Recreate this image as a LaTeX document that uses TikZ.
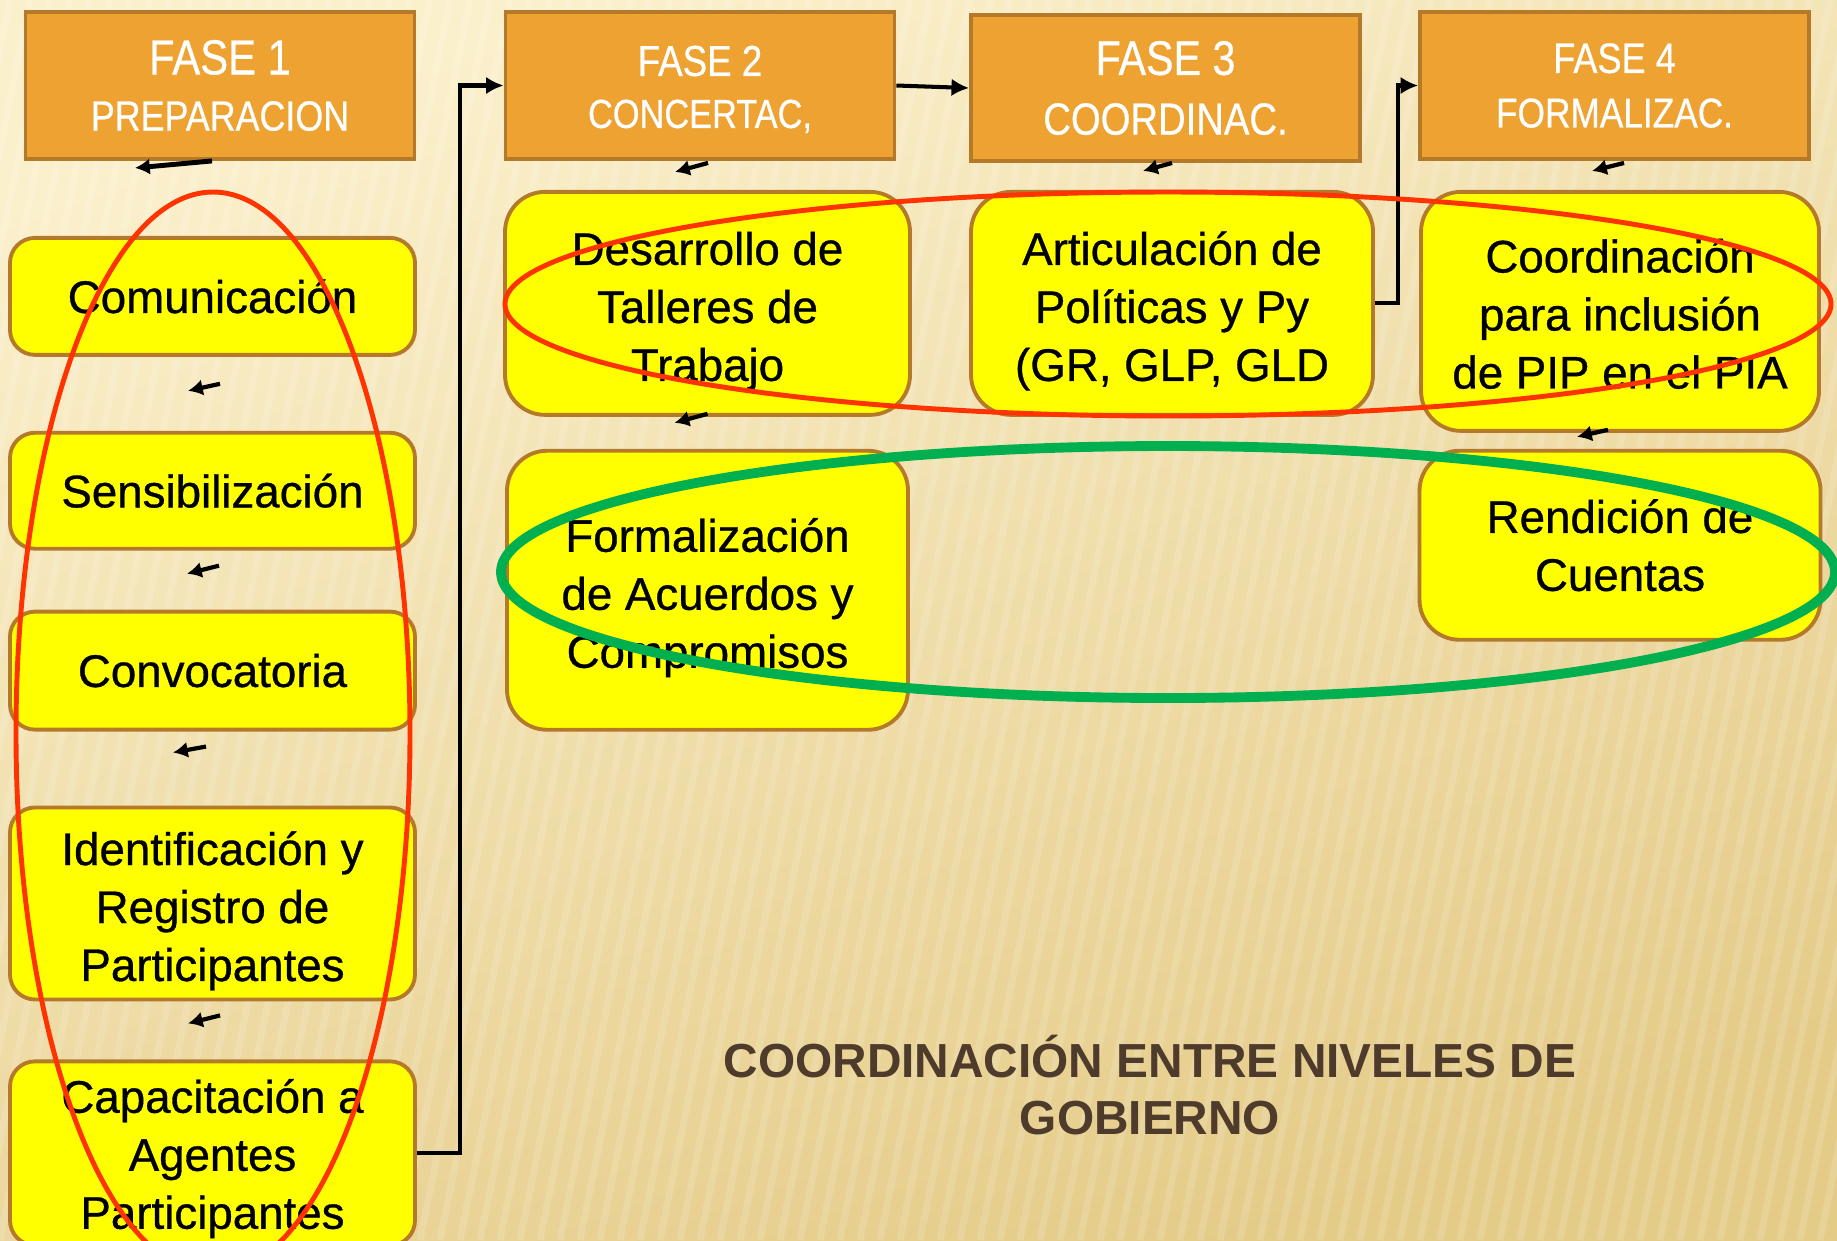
\documentclass[tikz,border=0pt]{standalone}
\usepackage{fontspec}
\setmainfont{Liberation Sans}
\newfontfamily\narrowfont[FakeStretch=0.85,FakeBold=0.6]{Liberation Sans}
\newfontfamily\boxfont[FakeBold=0.7]{Liberation Sans}
\usepackage{xcolor}
\usepackage{tikz}
\usetikzlibrary{shapes,arrows,arrows.meta,positioning}

\definecolor{bgtop}{HTML}{FBF0CC}
\definecolor{bgbot}{HTML}{E4CB88}
\definecolor{faseorange}{HTML}{EEA232}
\definecolor{fasebrown}{HTML}{B47A2A}
\definecolor{boxyellow}{HTML}{FFFF00}
\definecolor{ringred}{HTML}{FF3300}
\definecolor{ringgreen}{HTML}{00B050}
\definecolor{titlebrown}{HTML}{4E3B2C}

\begin{document}
\begin{tikzpicture}
    % Define styles
    \tikzstyle{fase} = [rectangle, minimum width=3.89cm, minimum height=1.47cm, align=center, draw=fasebrown, line width=1.1pt, fill=faseorange, text=white, font=\narrowfont\fontsize{12}{16}\selectfont]
    \tikzstyle{paso} = [rectangle, rounded corners=0.4cm, minimum width=4.02cm, align=center, draw=fasebrown, line width=1.1pt, fill=boxyellow, font=\boxfont\fontsize{13}{16.5}\selectfont]
    \tikzstyle{pasoizq} = [paso, rounded corners=0.25cm, minimum width=4.05cm]
    \tikzstyle{conn} = [line width=1.15pt, -{Latex[length=5pt,width=5pt]}]
    \tikzstyle{flecha} = [line width=1.2pt, -{Latex[length=4.2pt,width=4.6pt]}]
    \tikzstyle{ringred} = [draw=ringred, line width=1.4pt]
    \tikzstyle{ringgreen} = [draw=ringgreen, line width=2.8pt]
    \tikzstyle{titulo} = [align=center, text=titlebrown, font=\bfseries\fontsize{13.6}{16}\selectfont]

    % Background
    \useasboundingbox (0,0) rectangle (18.37,-12.40);
    \begin{scope}
        \clip (0,0) rectangle (18.37,-12.40);
        \shade[top color=bgtop, bottom color=bgbot, shading angle=20] (0,0) rectangle (18.37,-12.40);
        \foreach \x in {-4,-3.8,...,18.4}
            \draw[white, opacity=0.14, line width=0.07cm] (\x,-12.4) -- ++(2.5,12.4);
    \end{scope}

    % Nodes
    \node[fase] (f1) at (2.20,-0.855) {{\fontsize{14}{16}\selectfont FASE 1}\\PREPARACION};
    \node[fase, font=\narrowfont\fontsize{11.5}{14.8}\selectfont, text height=25.6pt] (f2) at (7.00,-0.855) {{\fontsize{12.3}{14.8}\selectfont FASE 2}\\CONCERTAC,};
    \node[fase, font=\narrowfont\fontsize{12.8}{17}\selectfont, minimum height=1.46cm] (f3) at (11.655,-0.88) {{\fontsize{13.8}{17}\selectfont FASE 3}\\COORDINAC.};
    \node[fase, font=\narrowfont\fontsize{11.8}{15.5}\selectfont] (f4) at (16.145,-0.855) {{\fontsize{12.1}{15.5}\selectfont FASE 4}\\FORMALIZAC.};

    \node[pasoizq, minimum height=1.17cm, below=0.75cm of f1, xshift=-0.075cm] (com) {Comunicación};
    \node[pasoizq, minimum height=1.16cm, below=0.74cm of com] (sen) {Sensibilización};
    \node[pasoizq, minimum height=1.18cm, below=0.59cm of sen] (conv) {Convocatoria};
    \node[pasoizq, minimum height=1.92cm, inner ysep=0pt, text height=46.8pt, below=0.74cm of conv] (ident) {Identificación y\\Registro de\\Participantes};
    \node[pasoizq, minimum height=1.84cm, inner ysep=0pt, text height=45.6pt, below=0.58cm of ident] (cap) {Capacitación a\\Agentes\\Participantes};

    \node[paso, minimum width=4.05cm, minimum height=2.23cm, text height=46.8pt, below=0.29cm of f2, xshift=0.075cm] (des) {Desarrollo de\\Talleres de\\Trabajo};
    \node[paso, minimum width=4.01cm, minimum height=2.79cm, text height=46.8pt, below=0.32cm of des] (formal) {Formalización\\de Acuerdos y\\Compromisos};

    \node[paso, minimum height=2.23cm, text height=46.8pt, below=0.27cm of f3, xshift=0.065cm] (art) {Articulación de\\Políticas y Py\\(GR, GLP, GLD};

    \node[paso, minimum width=3.98cm, minimum height=2.39cm, text height=44pt, below=0.29cm of f4, xshift=0.055cm] (coord) {Coordinación\\para inclusión\\de PIP en el PIA};
    \node[paso, minimum width=4.01cm, minimum height=1.89cm, below=0.16cm of coord] (rend) {Rendición de\\Cuentas};

    \node[titulo] (tit) at (11.50,-10.85) {COORDINACIÓN ENTRE NIVELES DE\\GOBIERNO};

    % Connections
    \draw[conn] (cap.east) -- ++(0.43,0) |- (f2.west);
    \draw[conn] (f2.east) -- (f3.west);
    \draw[conn] (art.east) -- ++(0.23,0) |- (f4.west);

    \draw[flecha, line width=1.4pt] ([xshift=-0.08cm]f1.south) -- ++(-0.77,-0.07);
    \draw[flecha] ([shift={(0.075,-0.27)}]com.south) -- ++(-0.32,-0.07);
    \draw[flecha] ([shift={(0.065,-0.15)}]sen.south) -- ++(-0.32,-0.08);
    \draw[flecha] ([shift={(-0.065,-0.15)}]conv.south) -- ++(-0.33,-0.06);
    \draw[flecha] ([shift={(0.075,-0.14)}]ident.south) -- ++(-0.32,-0.08);
    \draw[flecha] ([shift={(0.08,-0.02)}]f2.south) -- ++(-0.33,-0.09);
    \draw[flecha] ([shift={(0,0.03)}]des.south) -- ++(-0.33,-0.09);
    \draw[flecha] ([shift={(0.065,0)}]f3.south) -- ++(-0.29,-0.08);
    \draw[flecha] ([shift={(0.095,-0.02)}]f4.south) -- ++(-0.32,-0.08);
    \draw[flecha] ([shift={(-0.12,0.03)}]coord.south) -- ++(-0.31,-0.07);

    % Rings
    \draw[ringred] (2.13,-7.33) ellipse (1.97 and 5.41);
    \draw[ringred] (11.68,-3.04) ellipse (6.63 and 1.12);
    \draw[ringgreen] (11.68,-5.72) ellipse (6.67 and 1.26);
\end{tikzpicture}
\end{document}
